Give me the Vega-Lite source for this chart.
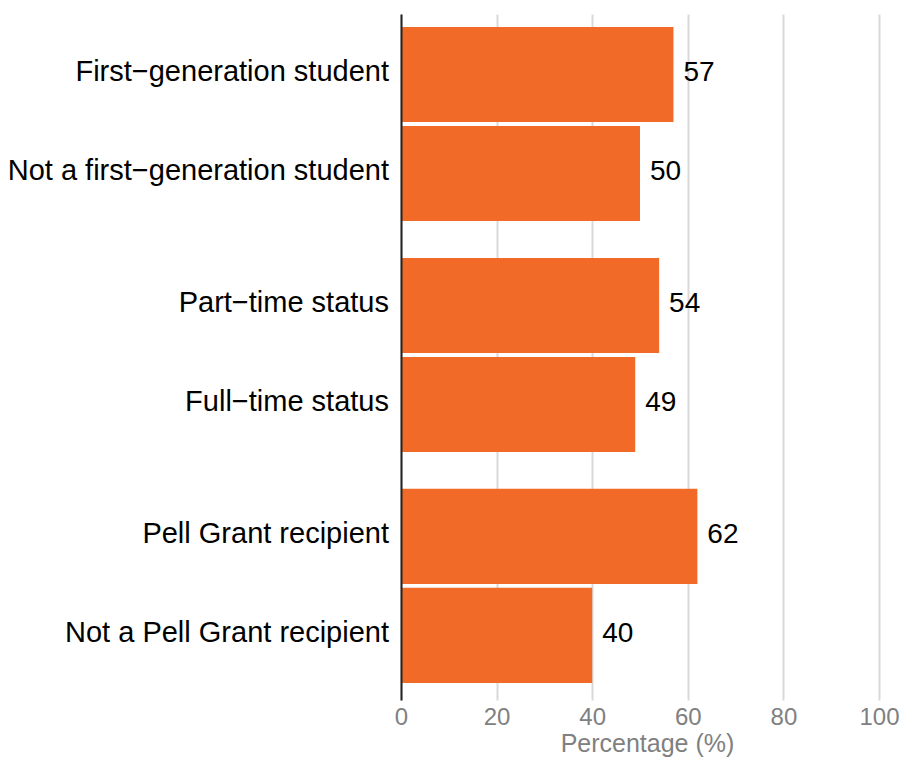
{
  "$schema": "https://vega.github.io/schema/vega-lite/v6.json",
  "width": 478,
  "height": 686,
  "autosize": {"type": "none"},
  "padding": {"left": 401, "top": 14, "right": 24, "bottom": 59},
  "config": {"view": {"stroke": null}, "font": "Liberation Sans"},
  "data": {
    "values": [
      {"group": "First-generation", "pair": "A", "label": "First−generation student", "value": 57},
      {"group": "First-generation", "pair": "B", "label": "Not a first−generation student", "value": 50},
      {"group": "Enrollment", "pair": "A", "label": "Part−time status", "value": 54},
      {"group": "Enrollment", "pair": "B", "label": "Full−time status", "value": 49},
      {"group": "Pell", "pair": "A", "label": "Pell Grant recipient", "value": 62},
      {"group": "Pell", "pair": "B", "label": "Not a Pell Grant recipient", "value": 40}
    ]
  },
  "encoding": {
    "y": {
      "field": "group",
      "type": "nominal",
      "sort": null,
      "scale": {"paddingInner": 0.16, "paddingOuter": 0.065, "align": 0.43},
      "axis": {"title": null, "labels": false, "ticks": false, "grid": false, "domainColor": "#222222", "domainWidth": 2, "zindex": 1}
    },
    "yOffset": {
      "field": "pair",
      "type": "nominal",
      "scale": {"paddingInner": 0.04, "paddingOuter": 0}
    }
  },
  "layer": [
    {
      "mark": {"type": "bar", "color": "#f16a28"},
      "encoding": {
        "x": {
          "field": "value",
          "type": "quantitative",
          "scale": {"domain": [0, 100]},
          "axis": {
            "values": [0, 20, 40, 60, 80, 100],
            "grid": true,
            "gridColor": "#d9d9d9",
            "gridWidth": 2,
            "domain": false,
            "ticks": false,
            "labelFlush": false,
            "labelOverlap": false,
            "labelColor": "#808080",
            "labelFontSize": 24,
            "labelPadding": 5,
            "title": "Percentage (%)",
            "titleColor": "#808080",
            "titleFontSize": 25,
            "titleFontWeight": "normal",
            "titlePadding": 2,
            "titleX": 246
          }
        }
      }
    },
    {
      "mark": {"type": "text", "align": "left", "baseline": "middle", "dx": 10, "dy": -1, "fontSize": 28, "color": "#000000"},
      "encoding": {
        "x": {"field": "value", "type": "quantitative"},
        "text": {"field": "value"}
      }
    },
    {
      "mark": {"type": "text", "align": "right", "baseline": "middle", "dx": -12, "dy": -2, "fontSize": 29, "color": "#000000"},
      "encoding": {
        "x": {"datum": 0},
        "text": {"field": "label"}
      }
    }
  ]
}
